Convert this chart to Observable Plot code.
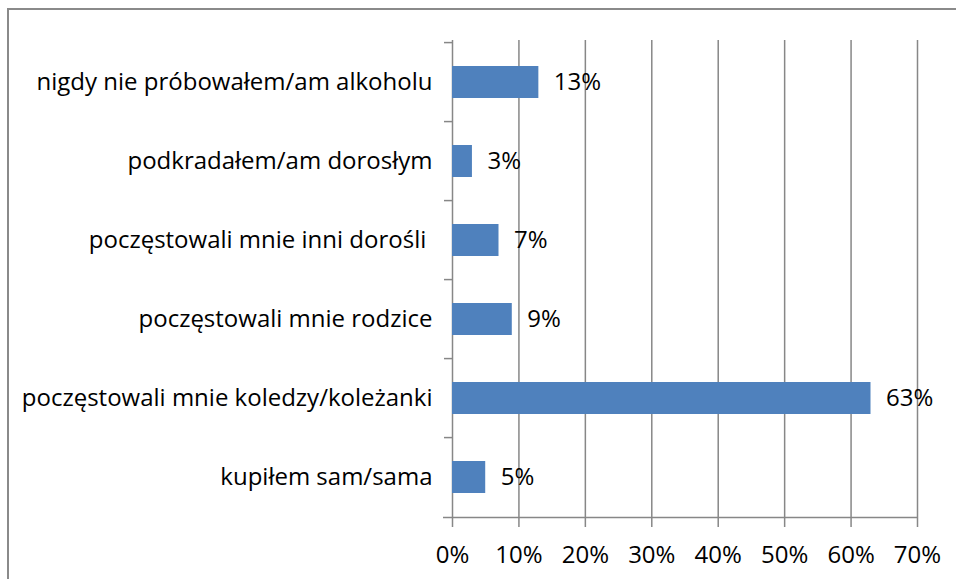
<!DOCTYPE html>
<html>
<head>
<meta charset="utf-8">
<script src="https://cdn.jsdelivr.net/npm/d3@7"></script>
<script src="https://cdn.jsdelivr.net/npm/@observablehq/plot@0.6"></script>
<style>
  html, body { margin: 0; padding: 0; background: #fff; }
  #wrap { position: relative; width: 956px; height: 579px; overflow: hidden; }
  #wrap svg { display: block; position: absolute; left: 0; top: 0; }
  #border { position: absolute; left: 7px; top: 8px; width: 1000px; height: 700px;
            border: 2px solid #8a8a8a; box-sizing: border-box; pointer-events: none; }
</style>
</head>
<body>
<div id="wrap"><div id="border"></div></div>
<script>
const categories = [
  "nigdy nie próbowałem/am alkoholu",
  "podkradałem/am dorosłym",
  "poczęstowali mnie inni dorośli ",
  "poczęstowali mnie rodzice",
  "poczęstowali mnie koledzy/koleżanki",
  "kupiłem sam/sama"
];
const values = [13, 3, 7, 9, 63, 5];
const xTicks = [0, 10, 20, 30, 40, 50, 60, 70];

const data = categories.map((c, i) => ({category: c, value: values[i]}));

const W = 956, H = 579, mt = 40, mb = 60, ml = 452, mr = 39;
const step = (H - mt - mb) / categories.length;
const grid = "#878787";
const fs = 24;

const chart = Plot.plot({
  width: W,
  height: H,
  marginTop: mt,
  marginBottom: mb,
  marginLeft: ml,
  marginRight: mr,
  style: {fontFamily: "'Open Sans', Lato, sans-serif", fontSize: fs + "px", color: "#000", background: "transparent"},
  x: {domain: [0, 70], ticks: xTicks, tickFormat: d => d + "%", label: null},
  y: {domain: categories, paddingInner: 0.6, paddingOuter: 0.3, label: null},
  marks: [
    Plot.ruleX(xTicks, {stroke: grid, strokeWidth: 1.5, insetBottom: -8}),
    Plot.ruleY(categories, {y: d => d, x1: 0, x2: 0, dy: -step / 2, insetLeft: -8, stroke: grid, strokeWidth: 1.5}),
    Plot.ruleY([categories[categories.length - 1]], {y: d => d, x1: 0, x2: 70, dy: step / 2, insetLeft: -9, stroke: grid, strokeWidth: 1.5}),
    Plot.barX(data, {x: "value", y: "category", fill: "#4F81BD"}),
    Plot.text(data, {x: "value", y: "category", text: d => d.value + "%", textAnchor: "start", dx: 15, fill: "#000", fontSize: fs}),
    Plot.axisX({ticks: xTicks, tickFormat: d => d + "%", tickSize: 0, tickPadding: 26, fill: "#000", fontSize: fs}),
    Plot.axisY({tickSize: 0, tickPadding: 20, fill: "#000", fontSize: fs})
  ]
});
document.getElementById("wrap").insertBefore(chart, document.getElementById("border"));
</script>
</body>
</html>
